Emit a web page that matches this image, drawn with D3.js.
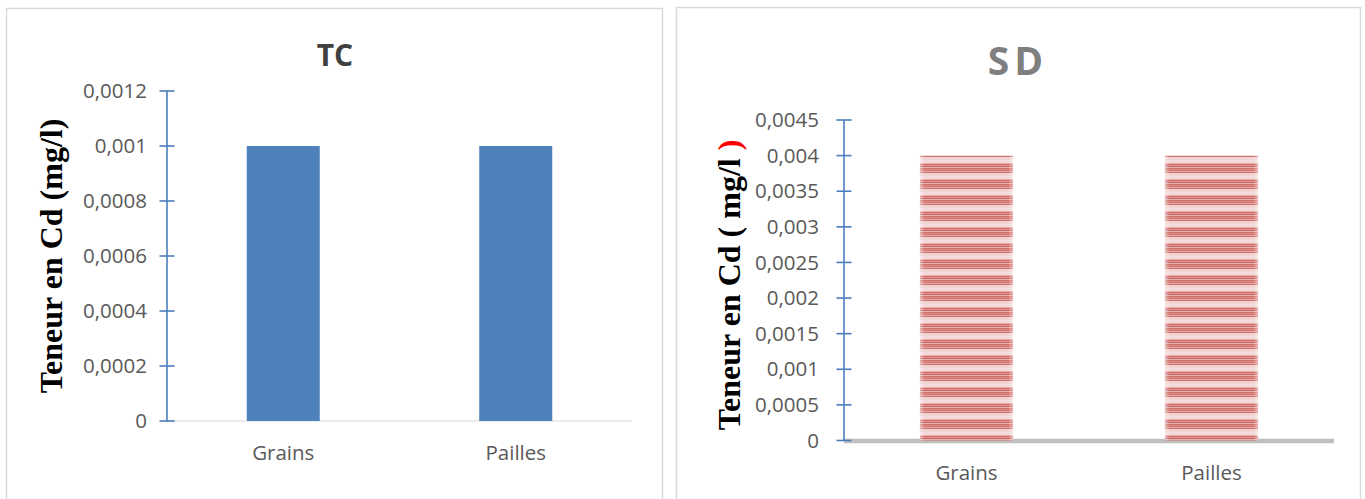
<!DOCTYPE html>
<html>
<head>
<meta charset="utf-8">
<script src="https://cdn.jsdelivr.net/npm/d3@7"></script>
<style>
  html, body { margin: 0; padding: 0; background: #ffffff; }
  svg { display: block; }
</style>
</head>
<body>
<svg id="chart" width="1365" height="499"></svg>
<script>
// Cadmium content (mg/l) in grains and straw, two sites
const categories = ["Grains", "Pailles"];
const tcValues = [0.001, 0.001];
const sdValues = [0.004, 0.004];
const tcTicks = [0, 0.0002, 0.0004, 0.0006, 0.0008, 0.001, 0.0012];
const sdTicks = [0, 0.0005, 0.001, 0.0015, 0.002, 0.0025, 0.003, 0.0035, 0.004, 0.0045];
const tcTitle = "TC";
const sdTitle = "SD";
const yLabelText = "Teneur en Cd (mg/l)";

const svg = d3.select("#chart");
const fmt = v => String(v).replace(".", ",");
const tickFont = "'Open Sans', 'Liberation Sans', sans-serif";
const tickSize = 20.5;
const axisBlue = "#4a7ebb";

// striped red fill for the SD bars
const defs = svg.append("defs");
const pat = defs.append("pattern")
  .attr("id", "redStripes")
  .attr("patternUnits", "userSpaceOnUse")
  .attr("width", 10).attr("height", 16);
const stripeRows = [
  [0, 3, "#f4dcdb"], [3, 1, "#e4a9a7"], [4, 1, "#d2716e"], [5, 1, "#dc8f8d"],
  [6, 1, "#cf6a67"], [7, 1, "#e6b1b0"], [8, 1, "#d2716e"], [9, 1, "#d88482"],
  [10, 1, "#d47a77"], [11, 1, "#e3a4a2"], [12, 1, "#d0706d"], [13, 3, "#f1d3d2"]
];
stripeRows.forEach(([y, h, c]) => {
  pat.append("rect").attr("x", 0).attr("y", y).attr("width", 10).attr("height", h).attr("fill", c);
});
const edge = defs.append("linearGradient").attr("id", "edgeFade").attr("x1", 0).attr("x2", 1).attr("y1", 0).attr("y2", 0);
edge.append("stop").attr("offset", "0%").attr("stop-color", "#fff").attr("stop-opacity", 0.45);
edge.append("stop").attr("offset", "5%").attr("stop-color", "#fff").attr("stop-opacity", 0);
edge.append("stop").attr("offset", "95%").attr("stop-color", "#fff").attr("stop-opacity", 0);
edge.append("stop").attr("offset", "100%").attr("stop-color", "#fff").attr("stop-opacity", 0.45);

// panel frames
svg.append("rect").attr("x", 6.5).attr("y", 8.5).attr("width", 656).attr("height", 520)
  .attr("fill", "none").attr("stroke", "#d9d9d9").attr("stroke-width", 1.5);
svg.append("rect").attr("x", 676.5).attr("y", 7.5).attr("width", 684).attr("height", 520)
  .attr("fill", "none").attr("stroke", "#d9d9d9").attr("stroke-width", 1.5);

function drawPanel(opts) {
  const g = svg.append("g");
  const x = d3.scaleBand().domain(categories).range([opts.x0, opts.x1]).paddingInner(opts.pad).paddingOuter(opts.pad / 2);
  const y = d3.scaleLinear().domain([0, opts.ticks[opts.ticks.length - 1]]).range([opts.yBottom, opts.yTop]);

  // category baseline
  g.append("line")
    .attr("x1", opts.x0).attr("x2", opts.x1)
    .attr("y1", y(0) + opts.baseOffset).attr("y2", y(0) + opts.baseOffset)
    .attr("stroke", opts.baseColor).attr("stroke-width", opts.baseWidth);

  // bars
  g.selectAll("rect.bar").data(opts.values).join("rect")
    .attr("class", "bar")
    .attr("x", (d, i) => x(categories[i]))
    .attr("y", d => y(d))
    .attr("width", x.bandwidth())
    .attr("height", d => y(0) - y(d))
    .attr("fill", opts.fill);
  if (opts.edgeFade) {
    g.selectAll("rect.fade").data(opts.values).join("rect")
      .attr("class", "fade")
      .attr("x", (d, i) => x(categories[i]))
      .attr("y", d => y(d))
      .attr("width", x.bandwidth())
      .attr("height", d => y(0) - y(d))
      .attr("fill", "url(#edgeFade)");
  }

  // value axis with crossing ticks
  const axis = d3.axisLeft(y).tickValues(opts.ticks).tickFormat(fmt).tickSize(0).tickPadding(opts.labelPad);
  const ag = g.append("g").attr("transform", `translate(${opts.x0},0)`).call(axis);
  ag.select(".domain").remove();
  ag.selectAll("text").attr("fill", "#595959").attr("font-family", tickFont).attr("font-size", tickSize);
  ag.append("line").attr("x1", 0).attr("x2", 0).attr("y1", y(opts.ticks[opts.ticks.length - 1])).attr("y2", y(0))
    .attr("stroke", axisBlue).attr("stroke-width", 1.6);
  ag.selectAll("line.tk").data(opts.ticks).join("line").attr("class", "tk")
    .attr("x1", -7.5).attr("x2", 7.5).attr("y1", d => y(d)).attr("y2", d => y(d))
    .attr("stroke", axisBlue).attr("stroke-width", 1.6);

  // category labels
  g.selectAll("text.cat").data(categories).join("text")
    .attr("class", "cat")
    .attr("x", d => x(d) + x.bandwidth() / 2)
    .attr("y", opts.catY)
    .attr("text-anchor", "middle")
    .attr("fill", "#595959").attr("font-family", tickFont).attr("font-size", tickSize)
    .text(d => d);

  // title
  g.append("text")
    .attr("x", opts.titleX).attr("y", opts.titleY)
    .attr("text-anchor", "middle")
    .attr("font-family", tickFont).attr("font-weight", "bold")
    .attr("font-size", opts.titleSize).attr("letter-spacing", opts.titleSpacing)
    .attr("fill", opts.titleColor)
    .text(opts.title);

  // rotated axis title
  const lbl = g.append("text")
    .attr("transform", `translate(${opts.labelX},${opts.labelY}) rotate(-90)`)
    .attr("text-anchor", "middle")
    .attr("font-family", "'Liberation Serif', 'Times New Roman', serif")
    .attr("font-weight", "bold").attr("font-size", opts.labelSize)
    .attr("fill", "#000");
  opts.labelParts.forEach(p => lbl.append("tspan").attr("fill", p.color).text(p.text));
}

drawPanel({
  x0: 167, x1: 632, pad: 0.686,
  yBottom: 421, yTop: 91, ticks: tcTicks, values: tcValues,
  fill: "#4f81bd", edgeFade: false,
  baseColor: "#d9d9d9", baseWidth: 1.2, baseOffset: 0,
  labelPad: 20, catY: 460,
  title: tcTitle, titleX: 335, titleY: 66, titleSize: 30, titleSpacing: 0, titleColor: "#404040",
  labelX: 62, labelY: 256, labelSize: 32,
  labelParts: [{ text: yLabelText, color: "#000" }]
});

drawPanel({
  x0: 844, x1: 1334, pad: 0.62,
  yBottom: 440.5, yTop: 120, ticks: sdTicks, values: sdValues,
  fill: "url(#redStripes)", edgeFade: true,
  baseColor: "#bfbfbf", baseWidth: 4.5, baseOffset: 0.5,
  labelPad: 25, catY: 480,
  title: sdTitle, titleX: 1018, titleY: 75, titleSize: 39, titleSpacing: 5, titleColor: "#7f7f7f",
  labelX: 740, labelY: 285, labelSize: 32,
  labelParts: [{ text: "Teneur en Cd ( mg/l ", color: "#000" }, { text: ")", color: "#ff0000" }]
});
</script>
</body>
</html>
